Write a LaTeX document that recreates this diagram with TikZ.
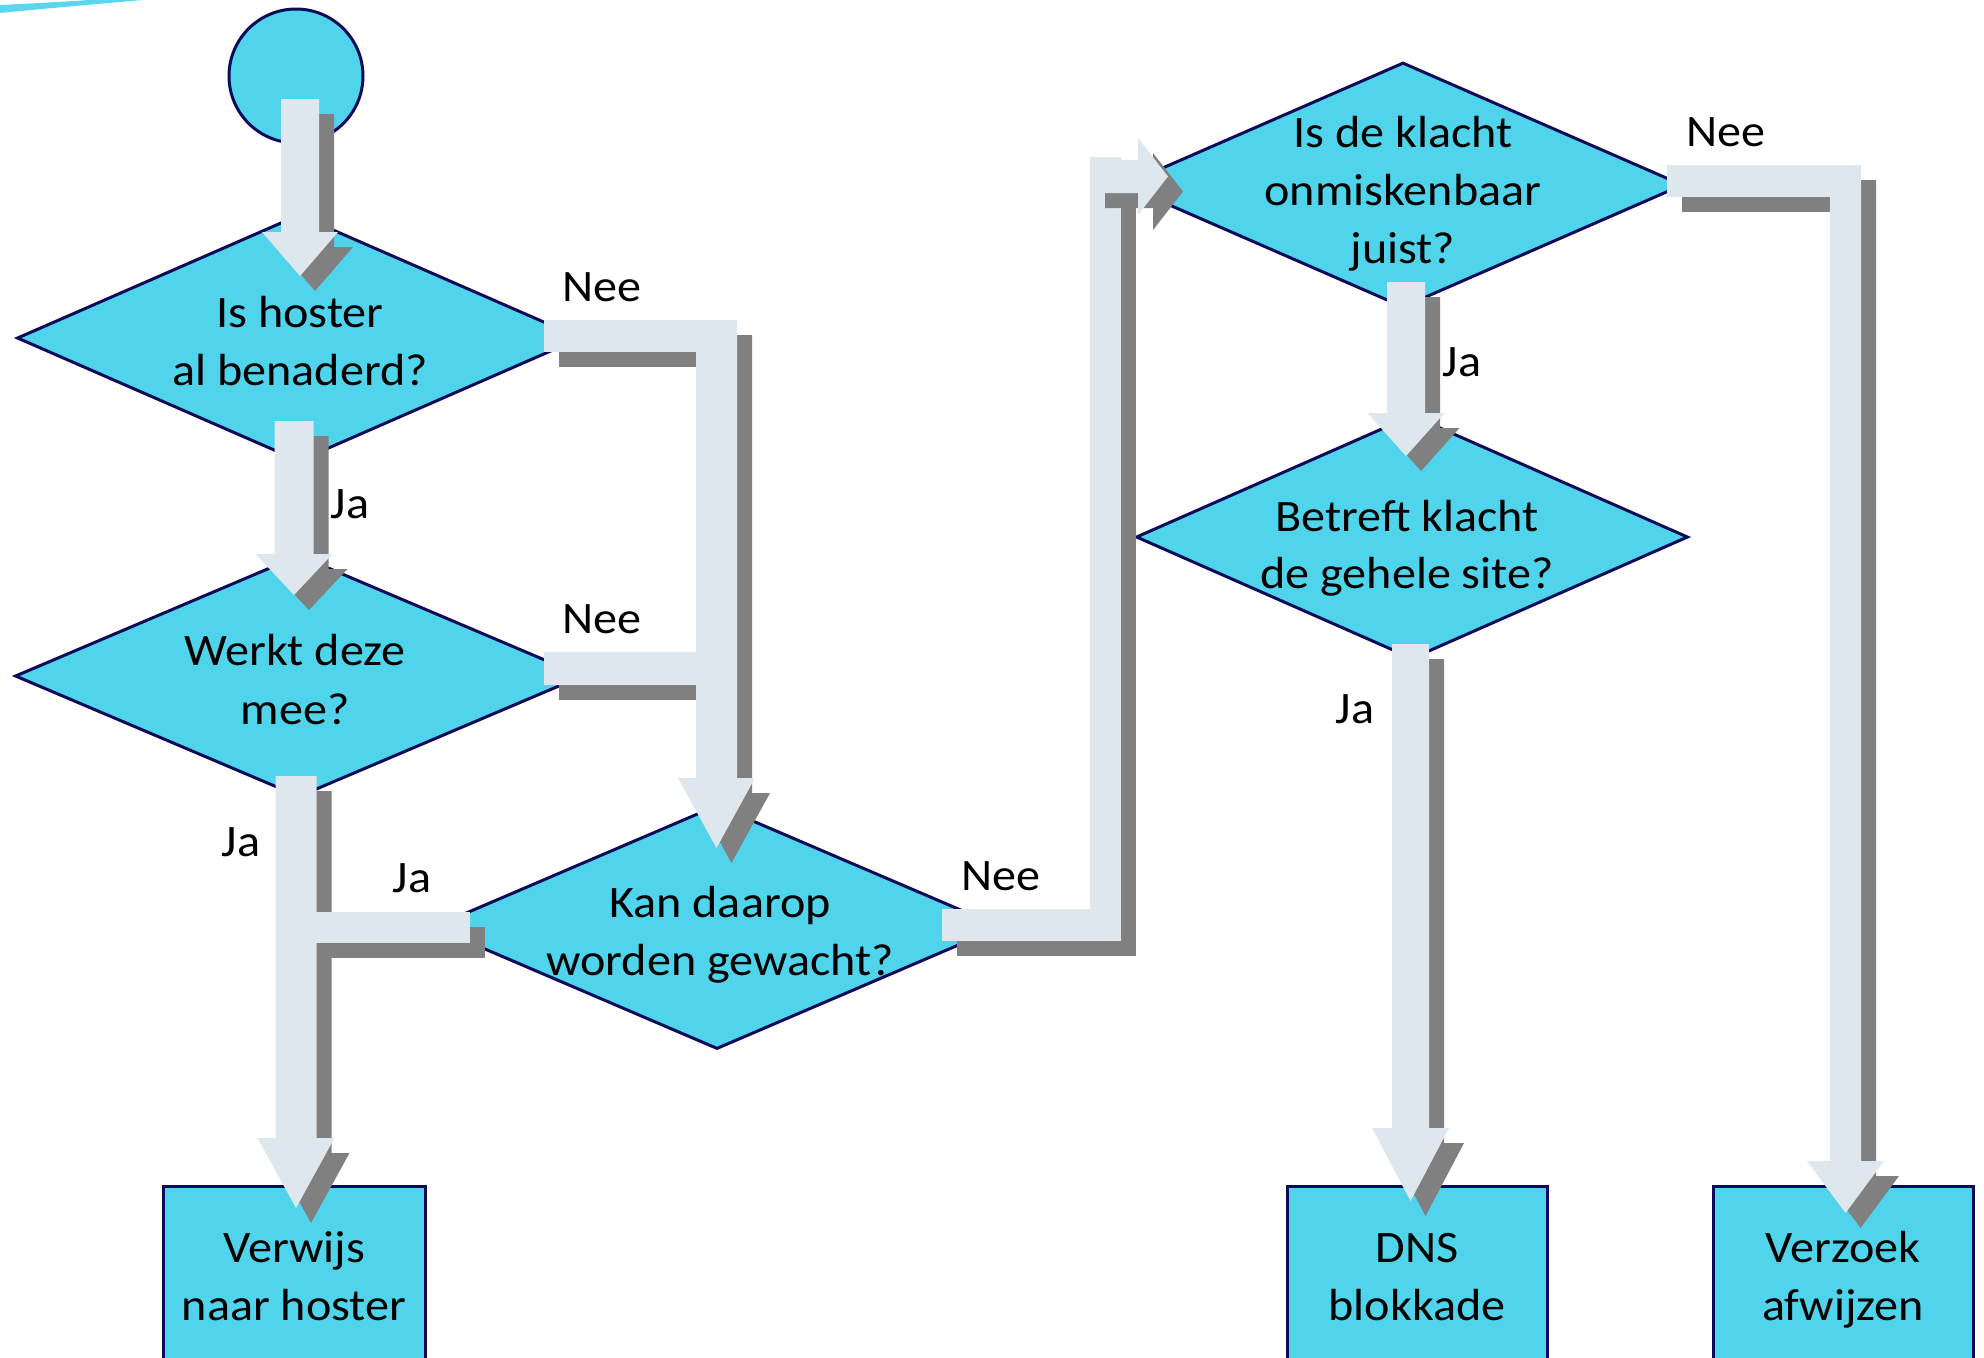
\documentclass[tikz,border=0pt]{standalone}
\usepackage{fontspec}
\setmainfont{Carlito}[FakeStretch=1.07]
\usetikzlibrary{shapes.geometric,calc}
\definecolor{cyanf}{HTML}{50D4EC}
\definecolor{bord}{HTML}{0E0A5A}
\definecolor{lite}{HTML}{DEE6EE}
\definecolor{shd}{HTML}{808080}
\definecolor{swoosh}{HTML}{5AD6EE}
% block-arrow path pieces (sizes in px, 1px = 0.5pt)
\newcommand\dnarrow[5]{let \p1=(#1), \p2=(#2) in (\x2-#3*0.25pt,\y1) -- (\x2+#3*0.25pt,\y1) -- (\x2+#3*0.25pt,\y2+#5*0.5pt) -- (\x2+#4*0.25pt,\y2+#5*0.5pt) -- (\x2,\y2) -- (\x2-#4*0.25pt,\y2+#5*0.5pt) -- (\x2-#3*0.25pt,\y2+#5*0.5pt) -- cycle}
\newcommand\rtarrow[5]{let \p1=(#1), \p2=(#2) in (\x1,\y2+#3*0.25pt) -- (\x2-#5*0.5pt,\y2+#3*0.25pt) -- (\x2-#5*0.5pt,\y2+#4*0.25pt) -- (\x2,\y2) -- (\x2-#5*0.5pt,\y2-#4*0.25pt) -- (\x2-#5*0.5pt,\y2-#3*0.25pt) -- (\x1,\y2-#3*0.25pt) -- cycle}
\newcommand\hbarp[3]{let \p1=(#1), \p2=(#2) in (\x1,\y1-#3*0.25pt) rectangle (\x2,\y1+#3*0.25pt)}
\newcommand\vbarp[3]{let \p1=(#1), \p2=(#2) in (\x1-#3*0.25pt,\y1) rectangle (\x1+#3*0.25pt,\y2)}
\newcommand\shadowed[1]{%
  \begin{scope}[transform canvas={xshift=7.5pt,yshift=-7.5pt},arrowfill/.style={fill=shd}]#1\end{scope}%
  \begin{scope}[arrowfill/.style={fill=lite}]#1\end{scope}}
\begin{document}
\begin{tikzpicture}[x=0.5pt,y=-0.5pt,
  dia/.style={diamond,draw=bord,fill=cyanf,line width=1.5pt,inner sep=0pt},
  endbox/.style={rectangle,draw=bord,fill=cyanf,line width=1.5pt,inner sep=0pt,anchor=north,minimum height=110pt},
  txt/.style={font=\fontsize{22.5}{26}\selectfont,inner sep=0pt,anchor=base},
  arrowfill/.style={fill=lite}]
\useasboundingbox (0,0) rectangle (1984,1357);
\clip (0,0) rectangle (1984,1357);
\fill[swoosh] (0,5) .. controls (40,3) and (80,1) .. (115,-2) -- (165,-2) .. controls (110,3) and (50,8) .. (0,13) -- cycle;

% shapes
\node[circle,draw=bord,fill=cyanf,line width=1.5pt,minimum size=67pt,inner sep=0pt] (start) at (296,76) {};
\node[dia,minimum width=282pt,minimum height=123.5pt] (d1) at (299,338) {};
\node[dia,minimum width=284pt,minimum height=121pt] (d2) at (299,676) {};
\node[dia,minimum width=284pt,minimum height=122pt] (d3) at (717,927) {};
\node[dia,minimum width=280pt,minimum height=122.5pt] (d4) at (1403,185) {};
\node[dia,minimum width=276pt,minimum height=122pt] (d5) at (1412,537) {};
\node[endbox,minimum width=131pt] (b1) at (294,1185) {};
\node[endbox,minimum width=130pt] (b2) at (1417,1185) {};
\node[endbox,minimum width=130pt] (b3) at (1843,1185) {};

% connector points
\coordinate (a1s) at (300,99);   \coordinate (a1e) at (300,276);
\coordinate (a2s) at (294,421);  \coordinate (a2e) at (294,595);
\coordinate (a3s) at (544,336);  \coordinate (a3c) at (737,336);
\coordinate (a3v) at (716.5,320); \coordinate (a3e) at (716.5,848);
\coordinate (a4s) at (544,668.5); \coordinate (a4c) at (697,668.5);
\coordinate (a5s) at (296,776);  \coordinate (a5e) at (296,1208);
\coordinate (a6s) at (470,927.5); \coordinate (a6c) at (316,927.5);
\coordinate (a7s) at (942,925);  \coordinate (a7c) at (1121,925);
\coordinate (a7v) at (1105.5,941); \coordinate (a7t) at (1105.5,157);
\coordinate (a7h) at (1090,176.5); \coordinate (a7e) at (1168,176.5);
\coordinate (a8s) at (1406,282); \coordinate (a8e) at (1406,456);
\coordinate (a9s) at (1667,181); \coordinate (a9c) at (1861,181);
\coordinate (a9v) at (1845.5,165); \coordinate (a9e) at (1845.5,1213);
\coordinate (a10s) at (1410.5,644); \coordinate (a10e) at (1410.5,1201);

% block arrows with drop shadow
\shadowed{\fill[arrowfill] \dnarrow{a1s}{a1e}{38}{76}{44};}
\shadowed{\fill[arrowfill] \dnarrow{a2s}{a2e}{39}{77}{41};}
\shadowed{\fill[arrowfill] \hbarp{a4s}{a4c}{33};}
\shadowed{\fill[arrowfill] \hbarp{a3s}{a3c}{32}; \fill[arrowfill] \dnarrow{a3v}{a3e}{41}{77}{70};}
\shadowed{\fill[arrowfill] \dnarrow{a5s}{a5e}{41}{77}{70};}
\shadowed{\fill[arrowfill] \hbarp{a6c}{a6s}{31};}
\shadowed{\fill[arrowfill] \hbarp{a7s}{a7c}{32}; \fill[arrowfill] \vbarp{a7v}{a7t}{31};}
\shadowed{\fill[arrowfill] \rtarrow{a7h}{a7e}{33}{77}{30};}
\shadowed{\fill[arrowfill] \dnarrow{a8s}{a8e}{38}{77}{43};}
\shadowed{\fill[arrowfill] \hbarp{a9s}{a9c}{32}; \fill[arrowfill] \dnarrow{a9v}{a9e}{31}{77}{52};}
\shadowed{\fill[arrowfill] \dnarrow{a10s}{a10e}{37}{77}{73};}

% texts
\node[txt] (t1a) at (300,327) {Is hoster};
\node[txt] (t1b) at (300,385) {al benaderd?};
\node[txt] (t2a) at (295,665) {Werkt deze};
\node[txt] (t2b) at (295,724) {mee?};
\node[txt] (t3a) at (720,917) {Kan daarop};
\node[txt] (t3b) at (720,975) {worden gewacht?};
\node[txt] (t4a) at (1403,147) {Is de klacht};
\node[txt] (t4b) at (1403,205) {onmiskenbaar};
\node[txt] (t4c) at (1403,263) {juist?};
\node[txt] (t5a) at (1407,531) {Betreft klacht};
\node[txt] (t5b) at (1407,588) {de gehele site?};
\node[txt] (tb1a) at (294,1262) {Verwijs};
\node[txt] (tb1b) at (294,1320) {naar hoster};
\node[txt] (tb2a) at (1417,1262) {DNS};
\node[txt] (tb2b) at (1417,1320) {blokkade};
\node[txt] (tb3a) at (1843,1262) {Verzoek};
\node[txt] (tb3b) at (1843,1320) {afwijzen};

% connector labels
\node[txt] (l1) at (602,301) {Nee};
\node[txt] (l2) at (602,633) {Nee};
\node[txt] (l3) at (350,518) {Ja};
\node[txt] (l4) at (241,856) {Ja};
\node[txt] (l5) at (412,892) {Ja};
\node[txt] (l6) at (1001,890) {Nee};
\node[txt] (l7) at (1462,376) {Ja};
\node[txt] (l8) at (1726,146) {Nee};
\node[txt] (l9) at (1355,723) {Ja};
\end{tikzpicture}
\end{document}
